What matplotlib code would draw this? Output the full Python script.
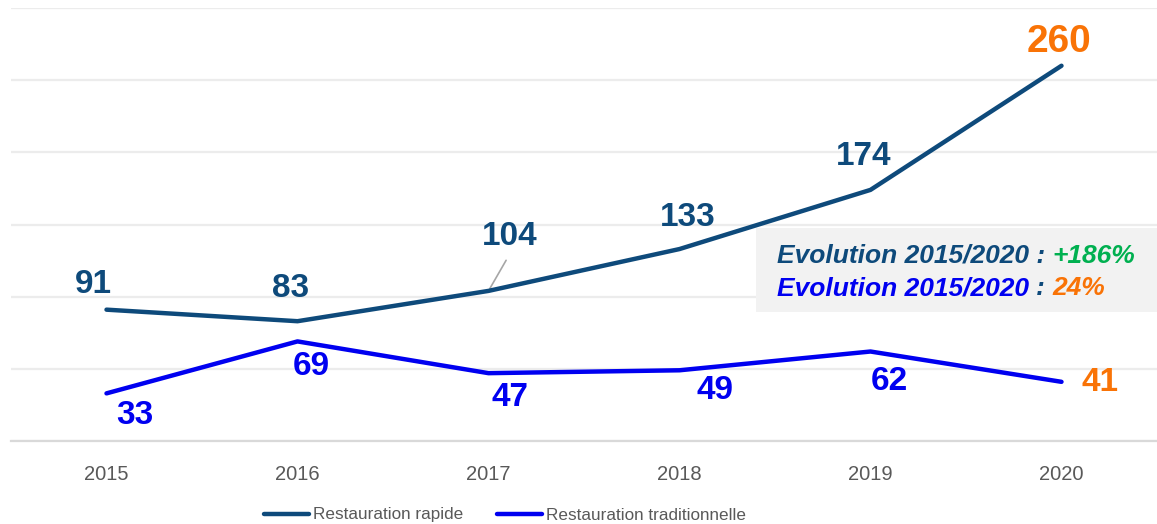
import matplotlib
matplotlib.use('Agg')
import matplotlib.pyplot as plt
import numpy as np

# data
years = ['2015', '2016', '2017', '2018', '2019', '2020']
rapide = [91, 83, 104, 133, 174, 260]
traditionnelle = [33, 69, 47, 49, 62, 41]
label_rapide = 'Restauration rapide'
label_trad = 'Restauration traditionnelle'

NAVY = '#0E4A7B'
BLUE = '#0000F0'
ORANGE = '#F97306'
GREEN = '#00B050'
GRID = '#ECECEC'

# label offsets in pixels (dx, dy) from each point
off_rapide = [(-13, 25), (-7, 33), (21, 54), (8, 32), (-7, 33), (-2, 24)]
off_trad = [(28, -22), (14, -25), (22, -24), (36, -20), (19, -30), (39, -1)]

plt.rcParams['font.family'] = ['Liberation Sans', 'DejaVu Sans']

fig = plt.figure(figsize=(11.57, 5.24), dpi=100)
ax = fig.add_axes([0.0095, 0.1584, 0.9905, 0.8263])

x = np.arange(len(years))
ax.plot(x, rapide, color=NAVY, lw=3.2, solid_capstyle='round', label=label_rapide, zorder=3)
ax.plot(x, traditionnelle, color=BLUE, lw=3.2, solid_capstyle='round', label=label_trad, zorder=3)

ax.set_xlim(-0.5, len(years) - 0.5)
ax.set_ylim(0, 300)
ax.set_yticks(np.arange(0, 301, 50))
ax.set_yticklabels([])
ax.tick_params(axis='y', length=0)
ax.grid(axis='y', color=GRID, lw=1.6, zorder=0)
ax.set_axisbelow(True)
ax.set_xticks(x)
ax.set_xticklabels(years, fontsize=14.5, color='#595959')
ax.tick_params(axis='x', length=0, pad=17)
for s in ['top', 'right', 'left']:
    ax.spines[s].set_visible(False)
ax.spines['bottom'].set_color('#D9D9D9')
ax.spines['bottom'].set_linewidth(1.6)

last = len(years) - 1
for i, (v, (dx, dy)) in enumerate(zip(rapide, off_rapide)):
    col = ORANGE if i == last else NAVY
    fs = 28 if i == last else 24
    ax.annotate(str(v), xy=(i, v), xytext=(dx, dy), textcoords='offset pixels',
                ha='center', va='center', fontsize=fs, fontweight='bold', color=col, zorder=4)
for i, (v, (dx, dy)) in enumerate(zip(traditionnelle, off_trad)):
    col = ORANGE if i == last else BLUE
    ax.annotate(str(v), xy=(i, v), xytext=(dx, dy), textcoords='offset pixels',
                ha='center', va='center', fontsize=24, fontweight='bold', color=col, zorder=4)

# leader line for 104
ax.annotate('', xy=(2, rapide[2]), xytext=(19, 33), textcoords='offset pixels',
            arrowprops=dict(arrowstyle='-', color='#A6A6A6', lw=1.2), zorder=2)

# evolution box
ev_r = (rapide[-1] - rapide[0]) / rapide[0] * 100
ev_t = (traditionnelle[-1] - traditionnelle[0]) / traditionnelle[0] * 100
fig.patches.append(plt.Rectangle((756 / 1157, 1 - 312 / 524), 401 / 1157, 84 / 524,
                                 transform=fig.transFigure, facecolor='#F2F2F2',
                                 edgecolor='none', zorder=5))
tx = 777 / 1157
y1 = 1 - 256 / 524
y2 = 1 - 288 / 524
FS_EV = 19
t = fig.text(tx, y1, 'Evolution 2015/2020 : ', fontsize=FS_EV, fontweight='bold',
             style='italic', color=NAVY, va='center', zorder=6)
fig.canvas.draw()
bb = t.get_window_extent()
fig.text(bb.x1 / fig.bbox.width, y1, f'+{ev_r:.0f}%', fontsize=FS_EV, fontweight='bold',
         style='italic', color=GREEN, va='center', zorder=6)
t2 = fig.text(tx, y2, 'Evolution 2015/2020 ', fontsize=FS_EV, fontweight='bold',
              style='italic', color=BLUE, va='center', zorder=6)
fig.canvas.draw()
bb2 = t2.get_window_extent()
t3 = fig.text(bb2.x1 / fig.bbox.width, y2, ': ', fontsize=FS_EV, fontweight='bold',
              style='italic', color=NAVY, va='center', zorder=6)
fig.canvas.draw()
bb3 = t3.get_window_extent()
fig.text(bb3.x1 / fig.bbox.width, y2, f'{ev_t:.0f}%', fontsize=FS_EV, fontweight='bold',
         style='italic', color=ORANGE, va='center', zorder=6)

fig.legend(loc='center', bbox_to_anchor=(505 / 1157, 1 - 515 / 524), ncol=2, frameon=False,
           fontsize=12.3, handlelength=2.6, handletextpad=0.25, columnspacing=2.0,
           labelcolor='#595959')

fig.savefig('out.png', dpi=100, facecolor='white')
